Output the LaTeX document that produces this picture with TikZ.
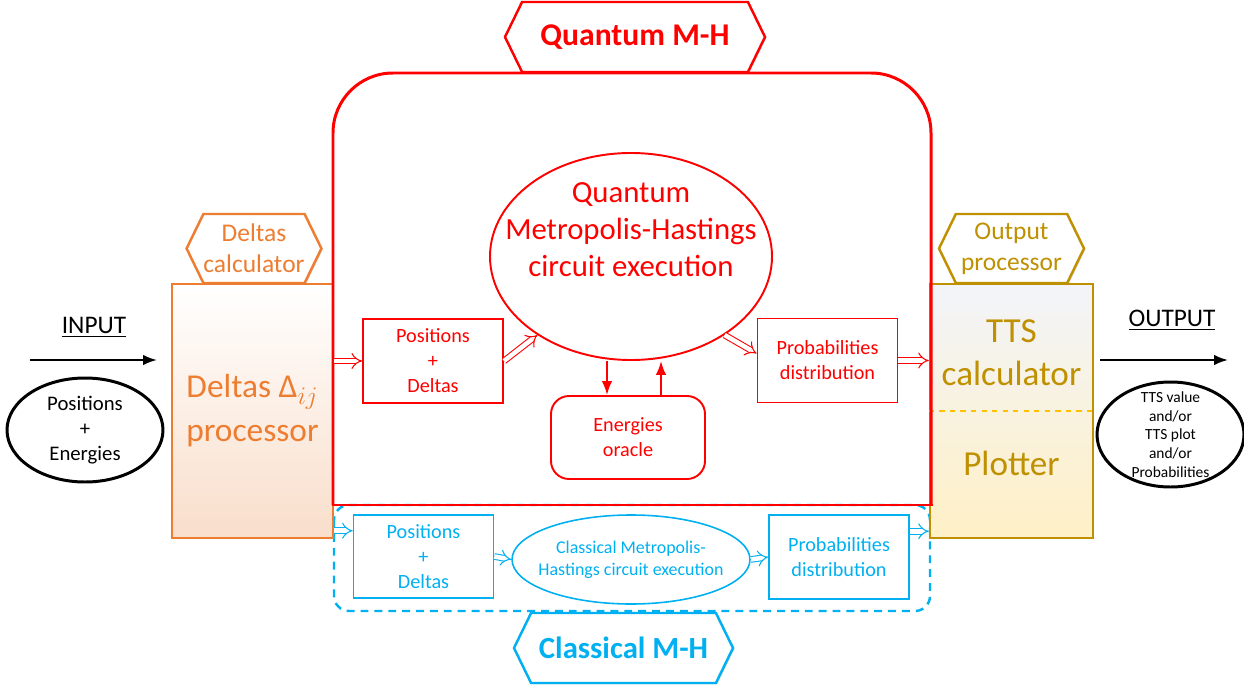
\documentclass[tikz,border=0pt]{standalone}
\usepackage{fontspec}
\setmainfont{Carlito}
\usetikzlibrary{shapes.geometric,shapes.symbols,arrows.meta,shadows}
\definecolor{qred}{HTML}{FF0000}
\definecolor{dorange}{HTML}{ED7D31}
\definecolor{dfill}{HTML}{F9DECB}
\definecolor{tgold}{HTML}{BF9000}
\definecolor{tgray}{HTML}{F2F4F9}
\definecolor{tyellow}{HTML}{FFF0C6}
\definecolor{cblue}{HTML}{00B0F0}
\definecolor{dyellow}{HTML}{FFC000}
\begin{document}
\begin{tikzpicture}
\tikzset{hexa/.style={draw, signal, signal to=west and east, signal pointer angle=128, line width=1.4pt, fill=white, minimum height=1.38cm, inner sep=0pt, align=center, drop shadow={opacity=0.25, shadow xshift=0.8pt, shadow yshift=-0.8pt}}}
\tikzset{qbox/.style={draw=qred, line width=1.1pt, text=qred, align=center, font=\fontsize{11.5}{14.2}\selectfont, minimum width=2.8cm, minimum height=1.68cm, inner sep=0pt}}
\tikzset{cbox/.style={draw=cblue, line width=0.9pt, text=cblue, align=center, font=\fontsize{11.5}{14.2}\selectfont, minimum width=2.8cm, minimum height=1.67cm, inner sep=0pt}}
\tikzset{hollow/.style={double, double distance=2.6pt, line width=0.6pt, -{Implies[scale=1.5]}}}
\useasboundingbox (0,0) rectangle (24.88,-13.8);
\draw[cblue, line width=1.4pt, dash pattern=on 4.5pt off 3.4pt, rounded corners=0.3cm] (6.68,-10.1) rectangle (18.6,-12.22);
\node[draw=dorange, line width=1.4pt, top color=white, bottom color=dfill, minimum width=3.22cm, minimum height=5.08cm, text=dorange, align=center, font=\fontsize{19}{25}\selectfont] (dproc) at (5.05,-8.22) {Deltas Δ$_{ij}$\\processor};
\node[hexa, draw=dorange, text=dorange, minimum width=2.68cm, font=\fontsize{14.5}{17.6}\selectfont] (dcalc) at (5.08,-4.97) {Deltas\\calculator};
\node[draw=tgold, line width=1.4pt, top color=tgray, bottom color=tyellow, minimum width=3.26cm, minimum height=5.08cm] (tts) at (20.23,-8.22) {};
\draw[dyellow, line width=1.1pt, dashed] (tts.west) -- (tts.east);
\node[text=tgold, align=center, font=\fontsize{20}{24.4}\selectfont] (ttsc) at (20.23,-7.05) {TTS\\calculator};
\node[text=tgold, font=\fontsize{20}{24.4}\selectfont] (plot) at (20.23,-9.26) {Plotter};
\node[hexa, draw=tgold, text=tgold, minimum width=2.9cm, font=\fontsize{14.5}{17.6}\selectfont] (oproc) at (20.23,-4.97) {Output\\processor};
\draw[qred, line width=1.7pt, rounded corners=1.2cm] (6.66,-10.1) -- (6.66,-1.46) -- (18.62,-1.46) -- (18.62,-10.1);
\draw[qred, line width=1.7pt, line cap=rect] (6.66,-10.1) -- (18.62,-10.1);
\node[hexa, draw=qred, text=qred, minimum width=5.2cm, minimum height=1.4cm, font=\bfseries\fontsize{18}{22}\selectfont] (qhex) at (12.7,-0.74) {Quantum M-H};
\node[draw=qred, line width=1.1pt, ellipse, minimum width=5.64cm, minimum height=4.14cm] (qmh) at (12.62,-5.13) {};
\node[text=qred, align=center, font=\fontsize{17.5}{21}\selectfont] (qmht) at (12.62,-4.6) {Quantum\\Metropolis-Hastings\\circuit execution};
\node[qbox] (pq) at (8.66,-7.22) {Positions\\+\\Deltas};
\node[qbox, rounded corners=0.36cm, minimum width=3.08cm, minimum height=1.66cm] (eo) at (12.56,-8.75) {Energies\\oracle};
\node[qbox] (pd) at (16.55,-7.21) {Probabilities\\distribution};
\node[cbox] (bpq) at (8.47,-11.13) {Positions\\+\\Deltas};
\node[draw=cblue, line width=0.9pt, ellipse, text=cblue, align=center, font=\fontsize{10.2}{12.5}\selectfont, minimum width=4.76cm, minimum height=1.78cm, inner sep=0pt, inner xsep=-0.25cm] (cmh) at (12.62,-11.19) {Classical Metropolis-\\Hastings circuit execution};
\node[cbox] (bpd) at (16.78,-11.14) {Probabilities\\distribution};
\node[hexa, draw=cblue, text=cblue, minimum width=4.38cm, minimum height=1.4cm, font=\bfseries\fontsize{17.5}{21}\selectfont] (chex) at (12.47,-12.96) {Classical M-H};
\node[font=\fontsize{14.4}{17}\selectfont] (inp) at (1.88,-6.54) {\underline{INPUT}};
\coordinate (ia) at (0.6,-7.2);
\coordinate (ib) at (3.14,-7.2);
\draw[-{Latex}, line width=1.1pt] (ia) -- (ib);
\node[draw, ellipse, line width=1.7pt, minimum width=3.12cm, minimum height=2.08cm, inner sep=0pt, align=center, font=\fontsize{11.8}{14.2}\selectfont] (pe) at (1.7,-8.6) {Positions\\+\\Energies};
\node[font=\fontsize{14.4}{17}\selectfont] (outp) at (23.44,-6.4) {\underline{OUTPUT}};
\coordinate (oa) at (22.0,-7.2);
\coordinate (ob) at (24.56,-7.2);
\draw[-{Latex}, line width=1.1pt] (oa) -- (ob);
\node[draw, ellipse, line width=1.7pt, minimum width=2.94cm, minimum height=2.1cm, inner xsep=0pt, inner ysep=-10pt, align=center, font=\fontsize{8.8}{10.6}\selectfont] (res) at (23.41,-8.69) {TTS value\\and/or\\TTS plot\\and/or\\Probabilities};
\draw[hollow, qred] (dproc.east |- pq.west) -- (pq.west);
\draw[hollow, qred] (pq.east) -- (qmh.220);
\draw[hollow, qred] (qmh.320) -- ([yshift=4pt]pd.west);
\draw[hollow, qred] (pd.east) -- (pd.east -| tts.west);
\coordinate (ed) at ([xshift=-0.48cm]qmh.south);
\coordinate (eu) at ([xshift=0.6cm]qmh.south);
\draw[-{Latex}, qred, line width=1.1pt] (ed) -- (ed |- eo.north);
\draw[-{Latex}, qred, line width=1.1pt] (eu |- eo.north) -- (eu);
\draw[hollow, cblue] (dproc.east |- bpq.160) -- (bpq.160);
\draw[hollow, cblue] (bpq.east) -- (cmh.west);
\draw[hollow, cblue] (cmh.east) -- (bpd.west);
\draw[hollow, cblue] (bpd.20) -- (bpd.20 -| tts.west);
\end{tikzpicture}
\end{document}
